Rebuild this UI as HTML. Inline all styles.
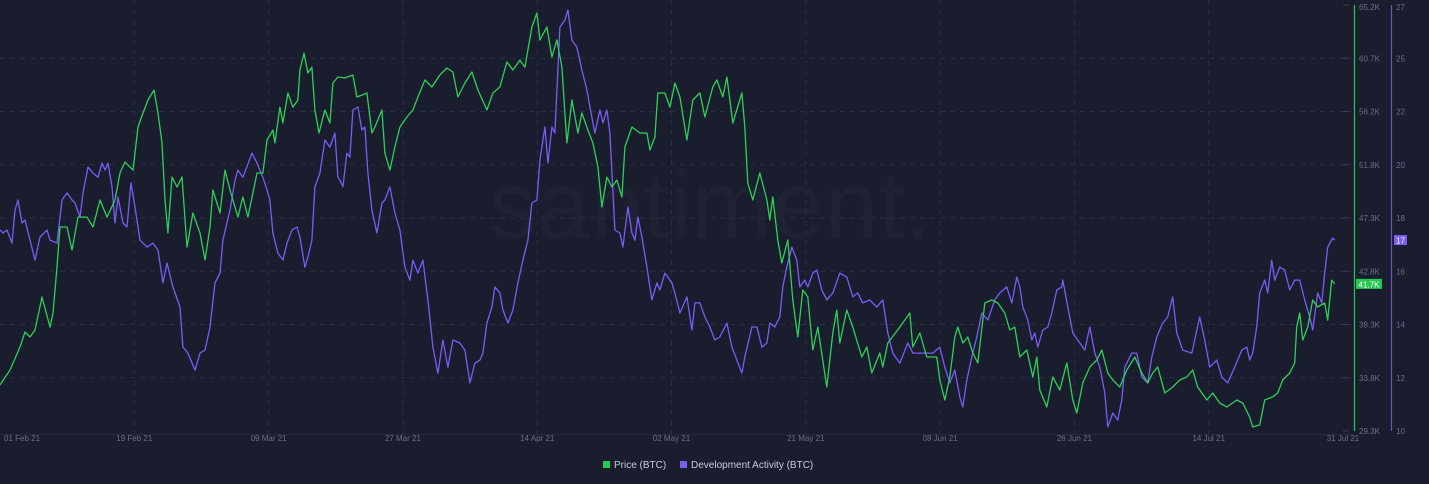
<!DOCTYPE html>
<html><head><meta charset="utf-8"><style>
html,body{margin:0;padding:0;background:#1a1d2d;width:1429px;height:484px;overflow:hidden}
svg{display:block;font-family:"Liberation Sans",sans-serif}
</style></head><body>
<svg id="chart" width="1429" height="484" xmlns="http://www.w3.org/2000/svg">
<rect x="0" y="0" width="1429" height="484" fill="#1a1d2d"/>
<text x="710" y="238" font-size="96" fill="#1f2233" text-anchor="middle">santiment.</text>
<g id="grid"></g>
<g id="axes"></g>
<g id="series"></g>
<g>
<g><rect x="603" y="461" width="7" height="7" fill="#26c953"/><text x="614" y="468" font-size="10" fill="#c9ccd8">Price (BTC)</text></g>
<g><rect x="680" y="461" width="7" height="7" fill="#7b5cf5"/><text x="691" y="468" font-size="10" fill="#c9ccd8">Development Activity (BTC)</text></g>
</g>
</svg>
<script>
const xTickLabels=["01 Feb 21","19 Feb 21","09 Mar 21","27 Mar 21","14 Apr 21","02 May 21","21 May 21","08 Jun 21","26 Jun 21","14 Jul 21","31 Jul 21"];
const xTickDays=[0,18,36,54,72,90,108,126,144,162,180];
const priceTicks=["29.3K","33.8K","38.3K","42.8K","47.3K","51.8K","56.2K","60.7K","65.2K"];
const devTicks=["10","12","14","16","18","20","22","25","27"];
const priceDays=[0,1.34,2.68,3.35,4.02,4.69,5.63,6.70,7.10,7.64,8.04,8.98,9.65,10.45,11.66,12.46,13.40,14.34,15.41,16.08,16.75,17.82,18.49,19.16,19.83,20.64,21.17,21.71,22.11,22.51,23.05,23.72,24.39,25.06,25.86,26.80,27.47,28.14,28.54,29.48,30.15,30.82,31.22,31.89,32.56,33.23,34.44,35.24,35.78,36.58,36.85,37.52,37.92,38.59,39.26,39.93,40.20,40.74,41.27,41.81,42.21,42.75,43.55,44.22,44.62,45.29,46.23,47.30,47.84,48.51,49.18,49.85,50.25,51.19,51.59,52.26,52.93,53.60,54.54,55.34,56.01,56.95,57.89,58.96,59.90,60.70,61.37,62.31,63.25,64.05,65.26,66.06,67.00,67.94,68.74,69.68,70.35,71.29,71.96,72.36,73.30,73.97,74.64,75.31,75.71,75.98,76.65,77.45,77.99,78.79,79.46,80.13,80.67,81.34,82.01,82.68,83.35,83.75,84.69,85.76,86.70,87.10,87.77,88.17,89.11,89.78,90.45,91.12,92.06,92.86,93.80,94.47,95.54,96.08,96.88,97.42,98.22,99.43,99.83,100.23,100.90,101.84,102.78,103.18,103.58,104.25,104.79,105.59,106.26,106.93,107.60,108.27,108.94,109.61,110.82,111.62,112.16,112.56,113.50,114.30,115.51,116.18,116.85,117.92,118.32,118.99,120.60,121.94,122.34,123.28,124.22,125.56,125.96,126.63,127.30,127.97,128.37,129.04,129.71,130.38,131.05,131.99,132.93,133.73,134.67,135.34,136.01,136.68,137.62,138.42,138.96,139.36,140.30,141.10,142.04,142.98,143.78,144.32,145.12,146.06,147.00,147.67,148.47,149.14,150.08,151.02,152.09,153.03,153.83,154.50,155.17,156.11,157.18,158.12,159.06,159.86,160.53,161.74,162.54,163.48,164.42,165.76,166.56,167.50,167.90,168.84,169.51,170.58,171.25,171.92,172.86,173.53,173.80,174.20,174.60,175.27,175.94,176.61,177.55,177.95,178.49,178.89];
const priceValues=[33.18,34.44,36.38,37.64,37.22,37.81,40.59,38.06,39.24,43.12,46.49,46.49,44.55,47.33,47.33,46.49,48.77,47.33,48.77,51.04,51.97,51.29,54.92,56.10,57.19,58.04,56.10,53.57,48.77,45.99,50.70,49.86,50.70,44.81,47.67,45.99,43.71,46.49,49.61,47.67,51.29,49.61,48.77,47.33,49.02,47.33,51.04,51.04,53.82,54.66,53.57,56.60,55.26,57.78,56.60,57.19,59.72,61.15,59.47,59.97,56.35,54.41,56.35,55.26,58.63,59.13,59.05,59.30,57.45,57.61,57.78,54.41,54.92,56.35,52.73,51.29,53.23,54.92,55.76,56.35,57.45,58.88,58.29,59.30,59.89,59.55,57.45,58.63,59.55,58.04,56.35,57.78,58.29,60.40,59.72,60.56,59.97,63.35,64.52,62.25,63.35,60.82,62.25,59.97,56.10,53.57,57.19,54.41,56.10,54.66,53.57,51.55,48.18,50.70,49.86,50.45,49.02,53.23,54.92,54.41,54.41,52.98,54.08,57.78,57.78,56.60,58.63,57.45,53.82,57.19,57.78,55.76,58.29,58.88,57.45,59.13,55.26,57.78,54.92,50.20,48.77,51.04,48.77,47.08,49.02,45.40,43.46,45.40,40.34,37.22,41.18,40.59,36.13,38.06,33.01,37.56,39.50,36.72,39.50,38.06,35.54,36.38,34.19,35.87,34.69,36.72,38.06,39.24,36.38,37.56,35.54,35.54,33.60,31.91,33.85,37.22,38.06,36.72,37.22,35.87,35.03,40.09,40.34,40.09,39.24,37.81,38.06,35.54,36.13,33.85,35.54,32.75,31.32,33.85,32.75,35.03,31.91,30.82,33.35,34.69,35.28,36.13,34.19,33.60,33.01,34.44,35.54,34.19,33.35,34.19,34.69,32.50,33.01,33.60,33.85,34.44,33.01,31.91,32.50,31.66,31.32,31.91,31.66,30.48,29.64,29.81,31.91,32.17,32.50,33.60,34.19,35.03,38.06,39.24,36.97,38.06,40.34,39.75,40.09,38.65,42.02,41.70];
const devDays=[0,0.40,0.94,1.61,2.01,2.41,2.95,3.35,4.02,4.69,5.36,6.30,6.70,7.64,8.31,8.98,9.65,10.05,10.72,11.12,11.79,12.46,13.13,13.67,14.07,14.47,15.01,15.41,15.81,16.48,17.02,17.55,18.09,18.76,19.70,20.50,21.17,21.84,22.38,23.18,24.12,24.52,25.19,26.13,26.80,27.47,28.14,28.81,29.48,29.88,30.82,31.49,31.89,32.56,33.77,34.44,34.84,35.24,35.78,36.18,36.58,37.25,37.92,38.46,39.13,39.80,40.20,40.87,41.27,41.81,42.21,42.88,43.55,44.22,44.89,45.29,45.56,45.96,46.50,46.90,47.30,47.97,48.51,48.91,49.31,49.85,50.52,51.19,51.59,52.26,52.93,53.60,54.27,54.94,55.34,56.01,56.68,57.35,58.02,58.69,59.36,60.03,60.70,61.64,62.31,62.98,63.65,64.32,64.72,65.26,65.93,66.33,67.00,67.40,68.07,68.74,69.41,70.08,70.75,71.29,71.96,72.36,73.03,73.43,73.97,74.37,75.04,75.71,76.11,76.65,77.32,77.99,78.66,79.06,79.73,80.40,80.80,81.34,81.74,82.41,83.08,83.48,84.15,84.69,85.09,85.49,86.03,86.70,87.37,88.04,88.44,89.11,90.05,90.45,91.12,92.06,92.73,93.13,93.80,94.47,95.14,95.81,96.48,97.42,98.09,98.76,99.43,99.83,100.77,101.44,102.11,102.78,103.18,103.85,104.52,104.92,105.46,106.13,106.80,107.20,107.87,108.27,108.94,109.48,110.15,110.82,111.62,112.56,113.50,114.30,114.97,115.64,116.58,117.52,118.32,118.99,119.66,120.60,121.67,122.34,123.28,124.22,125.02,125.96,126.63,127.30,127.97,128.64,129.04,129.58,130.25,130.92,131.59,132.39,133.33,134.00,134.94,135.61,136.28,136.68,137.08,137.75,138.29,138.69,139.09,139.76,140.43,140.97,141.64,142.31,142.44,143.11,143.78,144.72,145.39,146.06,146.73,147.40,148.07,148.47,149.14,149.81,150.35,150.75,151.69,152.36,153.03,153.83,154.37,155.04,155.84,156.51,157.18,157.72,158.52,159.73,160.80,161.47,162.14,163.08,163.75,164.55,165.49,166.43,167.10,167.50,167.90,168.44,168.84,169.51,169.91,170.45,170.85,171.52,172.19,172.86,173.53,174.20,174.87,175.54,175.94,176.61,177.15,177.55,177.95,178.62,178.89];
const devValues=[18.02,17.90,18.02,17.50,18.82,19.22,18.30,18.42,17.62,16.82,17.74,18.02,17.62,17.50,19.22,19.50,19.22,19.10,18.54,19.50,20.53,20.29,20.13,20.69,20.41,20.69,19.74,18.30,19.34,18.30,18.14,19.90,18.94,17.62,17.34,17.50,17.22,15.91,16.70,15.75,14.95,13.35,13.11,12.43,13.11,13.23,14.15,15.91,16.30,17.62,18.82,20.01,20.41,20.13,21.09,20.69,20.41,20.13,19.62,19.22,17.90,17.10,16.82,17.50,18.02,18.14,17.74,16.54,16.94,17.62,19.74,20.29,21.61,21.33,21.89,20.13,20.01,19.74,21.09,20.93,22.81,22.93,22.01,22.13,20.29,18.82,17.90,19.10,19.22,19.74,18.70,18.02,16.54,16.02,16.82,16.30,16.82,15.23,13.35,12.31,13.63,12.55,13.63,13.51,13.23,11.92,12.71,12.83,13.11,14.31,14.95,15.75,15.51,14.83,14.31,14.83,15.91,16.82,17.62,19.10,19.22,20.81,22.13,20.69,22.13,21.89,26.12,26.40,26.80,25.60,25.32,24.40,23.61,22.93,21.89,22.81,22.29,22.81,21.89,18.02,17.90,17.34,18.94,17.90,17.62,18.54,17.74,16.54,15.23,15.91,15.63,16.30,15.91,15.51,14.71,15.35,14.03,15.11,15.11,14.55,14.15,13.63,13.75,14.31,13.35,12.83,12.31,12.95,14.15,14.15,13.35,13.51,14.31,14.15,14.55,15.75,16.54,17.34,16.82,15.75,16.02,15.75,16.30,16.42,15.63,15.23,15.51,16.30,16.14,15.35,15.51,15.11,15.23,14.95,15.23,13.91,13.11,12.71,13.51,13.11,13.11,13.11,13.11,13.35,12.55,11.92,12.43,11.36,10.96,12.03,12.95,13.75,14.71,14.43,15.23,15.51,15.75,15.11,16.14,15.75,14.95,14.43,13.63,13.91,13.35,14.03,14.15,14.71,15.63,15.75,16.02,14.95,13.91,13.51,13.23,14.15,13.11,12.55,11.52,10.16,10.72,10.44,11.24,12.55,13.11,13.11,12.15,11.92,12.95,13.75,14.31,14.55,15.35,13.91,13.23,13.11,14.55,13.63,12.55,12.83,12.15,11.92,12.55,13.23,13.35,12.83,13.11,14.15,15.51,16.02,15.51,16.82,16.02,16.54,16.42,15.63,16.02,16.02,15.23,14.55,14.03,15.51,15.11,16.30,17.34,17.70,17.62];

const NS="http://www.w3.org/2000/svg";
const TOP=5,BOT=431,X0=0,X1=1343;
const xScale=d=>X0+(d/180)*(X1-X0);
const yPrice=v=>BOT-(v-29.3)/(65.2-29.3)*(BOT-TOP);
const yDev=v=>BOT-(v-10)/(27-10)*(BOT-TOP);
function mk(tag,attrs,parent){const e=document.createElementNS(NS,tag);for(const k in attrs)e.setAttribute(k,attrs[k]);parent.appendChild(e);return e;}
const grid=document.getElementById('grid'),axes=document.getElementById('axes'),series=document.getElementById('series');
for(let i=0;i<priceTicks.length;i++){
  const y=TOP+(BOT-TOP)*(priceTicks.length-1-i)/(priceTicks.length-1);
  if(i>0&&i<priceTicks.length-1){const g=mk('line',{x1:0,x2:1352,y1:y,y2:y,stroke:'#2a2e42','stroke-dasharray':'5,5','stroke-width':1},grid);
  
  }
  const tm=mk('line',{x1:1343,x2:1349,y1:y,y2:y,stroke:'#3a3e52'},axes);
  
  
  const t=mk('text',{x:1359,y:Math.min(Math.max(y+3,10),434),'font-size':8,fill:'#6b7088'},axes);t.textContent=priceTicks[i];
  
  
  const t2=mk('text',{x:1396,y:Math.min(Math.max(y+3,10),434),'font-size':8,fill:'#6b7088'},axes);t2.textContent=devTicks[i];
  
  
}
for(let i=0;i<xTickDays.length;i++){
  const x=xScale(xTickDays[i]);
  if(i>0&&i<xTickDays.length-1){const g=mk('line',{x1:x,x2:x,y1:0,y2:434,stroke:'#2a2e42','stroke-dasharray':'5,5'},grid);
  
  }
  const t=mk('text',{x:i===0?4:x,y:441,'font-size':8,fill:'#6b7088','text-anchor':i===0?'start':'middle'},axes);t.textContent=xTickLabels[i];
  
  
}
const xl=mk('line',{x1:0,x2:1352,y1:434.5,y2:434.5,stroke:'#262a3c'},axes);


const ga=mk('line',{x1:1354.5,x2:1354.5,y1:5,y2:431,stroke:'#26c953','stroke-width':1.2},axes);


const pa=mk('line',{x1:1391.5,x2:1391.5,y1:5,y2:431,stroke:'#6a52d0','stroke-width':1.2},axes);


function drawLine(days,vals,ys,color,name){
  let d='';for(let i=0;i<days.length;i++){d+=(i?'L':'M')+xScale(days[i]).toFixed(1)+','+ys(vals[i]).toFixed(1);}
  const p=mk('path',{d:d,fill:'none',stroke:color,'stroke-width':1.3,'stroke-linejoin':'round'},series);
  
  
}
drawLine(devDays,devValues,yDev,'#7b5cf5','dev-activity-line');
drawLine(priceDays,priceValues,yPrice,'#2ed158','price-line');
const lp=priceValues[priceValues.length-1],ld=devValues[devValues.length-1];
const gy=yPrice(lp);
const gr=mk('rect',{x:1356,y:gy-5,width:26,height:10,fill:'#26c953'},axes);


const gt=mk('text',{x:1369,y:gy+3.5,'font-size':8,fill:'#ffffff','text-anchor':'middle'},axes);gt.textContent=lp.toFixed(1)+'K';


const py=yDev(ld);
const pr=mk('rect',{x:1394,y:py-5,width:13,height:10,fill:'#7b5cf5'},axes);


const pt=mk('text',{x:1400.5,y:py+3.5,'font-size':8,fill:'#ffffff','text-anchor':'middle'},axes);pt.textContent=Math.floor(ld);


</script>
</body></html>
